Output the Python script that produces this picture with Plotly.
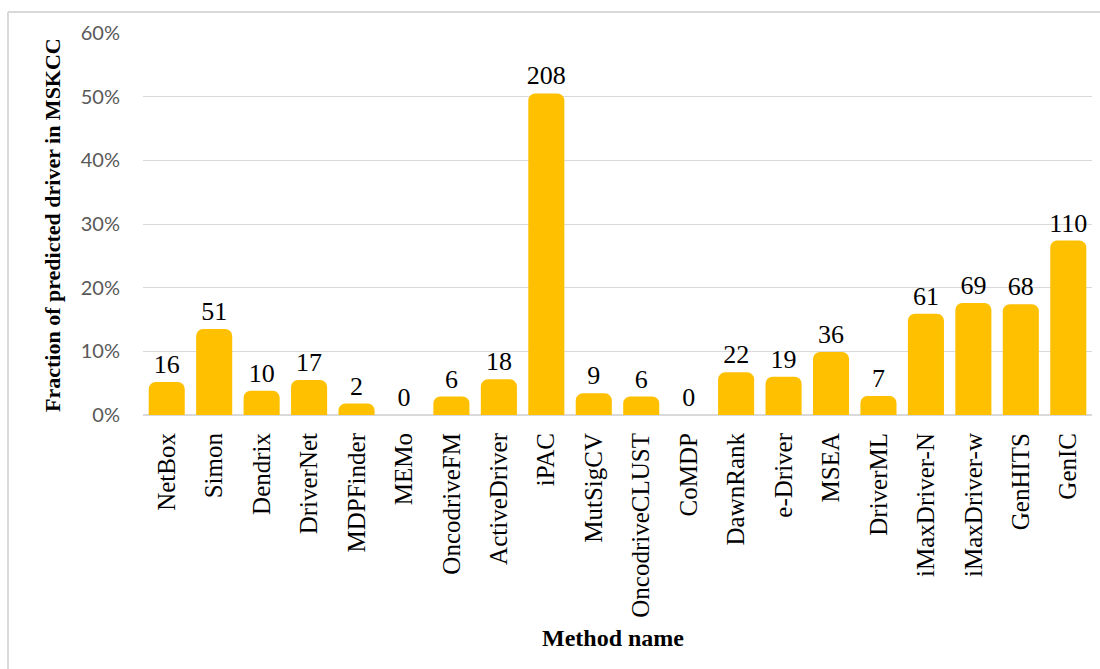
import plotly.graph_objects as go

methods = ["NetBox", "Simon", "Dendrix", "DriverNet", "MDPFinder", "MEMo", "OncodriveFM",
           "ActiveDriver", "iPAC", "MutSigCV", "OncodriveCLUST", "CoMDP", "DawnRank", "e-Driver",
           "MSEA", "DriverML", "iMaxDriver-N", "iMaxDriver-w", "GenHITS", "GenIC"]
fractions = [0.052, 0.135, 0.038, 0.055, 0.018, 0.0, 0.029, 0.056, 0.505, 0.034, 0.029, 0.0,
             0.067, 0.060, 0.099, 0.030, 0.159, 0.176, 0.174, 0.274]
counts = [16, 51, 10, 17, 2, 0, 6, 18, 208, 9, 6, 0, 22, 19, 36, 7, 61, 69, 68, 110]
y_ticks = [0, 0.1, 0.2, 0.3, 0.4, 0.5, 0.6]
y_tick_labels = ["0%", "10%", "20%", "30%", "40%", "50%", "60%"]

W, H = 1100, 669
L, R, T, B = 143, 1092, 33, 415


def px_x(px):
    return (px - L) / (R - L)


def px_y(py):
    return (B - py) / (B - T)


serif = "Liberation Serif, Times New Roman, serif"

fig = go.Figure(go.Bar(
    x=methods, y=fractions, text=[str(c) for c in counts],
    textposition="outside", constraintext="none", cliponaxis=False,
    textfont=dict(family=serif, size=26, color="#000000"),
    marker=dict(color="#FFC000", line=dict(width=0), cornerradius=7),
    hoverinfo="x+y",
))

fig.update_layout(
    width=W, height=H,
    margin=dict(l=L, r=W - R, t=T, b=H - B, pad=0),
    paper_bgcolor="#ffffff", plot_bgcolor="#ffffff",
    bargap=0.24, showlegend=False,
    xaxis=dict(
        tickangle=-90, tickfont=dict(family=serif, size=25, color="#000000"),
        showgrid=False, showline=False, ticks="", ticklabelstandoff=12,
        zeroline=False, fixedrange=True,
    ),
    yaxis=dict(
        range=[0, 0.6], tickvals=y_ticks, ticktext=y_tick_labels,
        tickfont=dict(family="Lato, Open Sans, sans-serif", size=20, color="#595959"),
        showgrid=True, gridcolor="#d9d9d9", gridwidth=1.2,
        zeroline=True, zerolinecolor="#d9d9d9", zerolinewidth=1.5,
        showline=False, ticks="", ticklabelstandoff=22, fixedrange=True,
    ),
    annotations=[
        dict(text="<b>Fraction of predicted driver in MSKCC</b>", xref="paper", yref="paper",
             x=px_x(52), y=px_y(225), textangle=-90, showarrow=False,
             xanchor="center", yanchor="middle",
             font=dict(family=serif, size=22, color="#000000")),
        dict(text="<b>Method name</b>", xref="paper", yref="paper",
             x=px_x(613), y=px_y(638), showarrow=False,
             xanchor="center", yanchor="middle",
             font=dict(family=serif, size=24, color="#000000")),
    ],
    shapes=[
        dict(type="line", xref="paper", yref="paper", x0=px_x(8), x1=px_x(1100),
             y0=px_y(12), y1=px_y(12), line=dict(color="#d9d9d9", width=2)),
        dict(type="line", xref="paper", yref="paper", x0=px_x(8), x1=px_x(8),
             y0=px_y(12), y1=px_y(669), line=dict(color="#d9d9d9", width=2)),
    ],
)

fig.write_html("out.html")
